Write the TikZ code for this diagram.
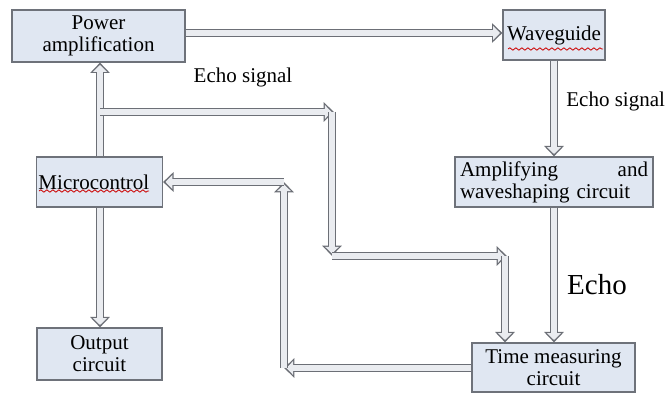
\documentclass[tikz,border=0pt]{standalone}
\usepackage{fontspec}
\setmainfont{Liberation Serif}
\usepackage{tikz}
\usetikzlibrary{positioning,arrows.meta,calc,decorations.pathmorphing}
\definecolor{boxfill}{RGB}{224,231,242}
\definecolor{boxline}{RGB}{110,114,122}
\definecolor{pipeline}{RGB}{108,111,118}
\definecolor{pipefill}{RGB}{234,236,240}
\tikzset{
	flow/.style={x=0.5pt,y=-0.5pt,font=\fontsize{10.5}{11}\selectfont},
	block/.style={rectangle,draw=boxline,line width=0.6pt,fill=boxfill,inner sep=1pt,align=center},
	pipe/.style={draw=pipefill,line width=2.8pt,shorten >=1.2pt,
		-{Triangle[length=3.4pt,width=6.8pt]},
		preaction={draw=pipeline,line width=4.4pt,shorten >=0pt,
			-{Triangle[length=5.2pt,width=9.6pt]}}},
	squiggle/.style={draw=red!80!black,line width=0.4pt,decorate,
		decoration={snake,amplitude=0.6pt,segment length=3pt}}
}

\begin{document}
\begin{tikzpicture}[flow]
	\useasboundingbox (0,0) rectangle (665,394);

	\node[block,minimum width=86.5pt,minimum height=26pt] (pwr) at (98.5,36) {Power\\amplification};
	\node[block,minimum width=51pt,minimum height=25pt] (wave) at (554,35) {Waveguide};
	\node[block,minimum width=99pt,minimum height=25pt,text width=94pt,align=left] (amp) at (554,182)
		{Amplifying\hfill and\\waveshaping circuit};
	\node[block,minimum width=62.5pt,minimum height=25pt,text width=61pt,align=left] (micro) at (99.5,182) {Microcontrol};
	\node[block,minimum width=62.5pt,minimum height=26pt] (out) at (99.5,354) {Output\\circuit};
	\node[block,minimum width=81.5pt,minimum height=24.5pt] (time) at (553.5,367.5) {Time measuring\\circuit};

	% bends of the two long paths
	\coordinate (br) at (100,112);
	\coordinate (c1) at (334,112);
	\coordinate (c2) at (332,256);
	\coordinate (c3) at (507,256);
	\coordinate (c4) at (284,368);
	\coordinate (c5) at (284,182);

	\path[pipe] (pwr.east |- 0,33) -- (wave.west |- 0,33);
	\path[pipe] (micro.north -| br) -- (pwr.south -| br);
	\path[pipe] (br) -- (c1);
	\path[pipe] (c1 -| c2) -- (c2);
	\path[pipe] (c2) -- (c3);
	\path[pipe] (c3 -| 505,0) -- (time.north -| 505,0);
	\path[pipe] (wave.south) -- (amp.north);
	\path[pipe] (amp.south) -- (time.north -| amp.south);
	\path[pipe] (time.west |- c4) -- (c4);
	\path[pipe] (c4) -- (c5);
	\path[pipe] (c5) -- (micro.east |- c5);
	\path[pipe] (micro.south -| br) -- (out.north -| br);

	\node (echoa) at (243,77) {Echo signal};
	\node[anchor=west,inner sep=0pt] (echob) at (566,101) {Echo signal};
	\node[font=\fontsize{14.5}{16}\selectfont] (echoc) at (597,285) {Echo};

	\path[squiggle] (508,49) -- (603,49);
	\path[squiggle] (39,191) -- (149,191);
\end{tikzpicture}
\end{document}
